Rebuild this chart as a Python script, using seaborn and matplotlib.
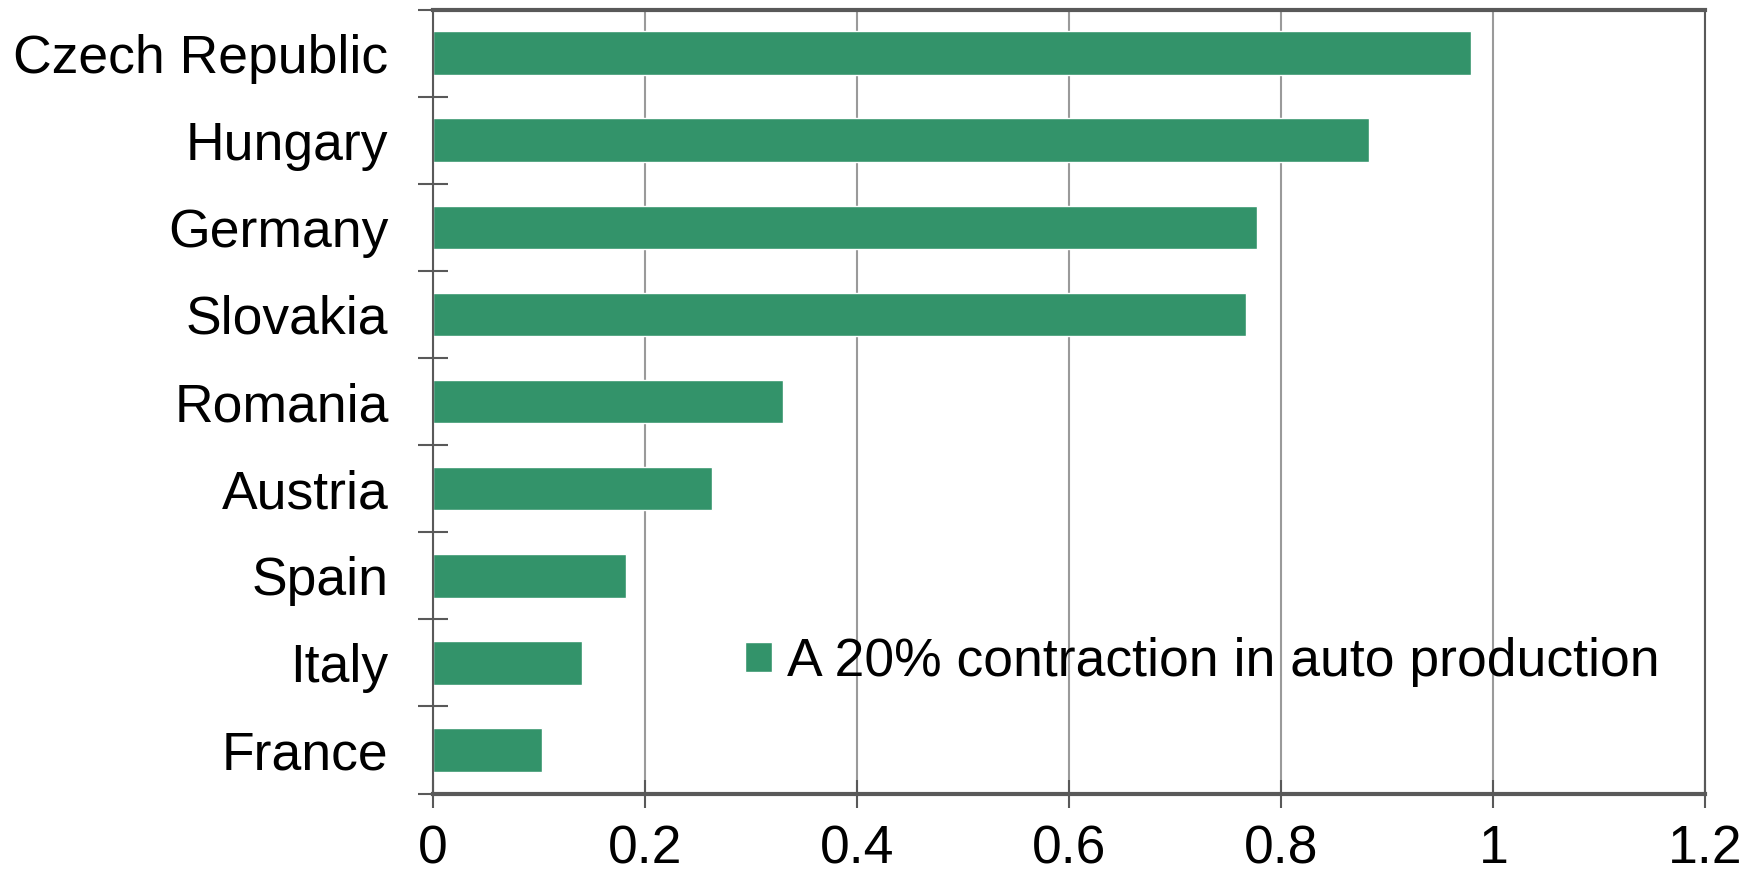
import matplotlib
matplotlib.use("Agg")
import matplotlib.pyplot as plt
import pandas as pd
import seaborn as sns
from matplotlib.ticker import FixedLocator

countries = ["Czech Republic", "Hungary", "Germany", "Slovakia", "Romania",
             "Austria", "Spain", "Italy", "France"]
impact = [0.979, 0.883, 0.777, 0.767, 0.330, 0.263, 0.182, 0.141, 0.103]
series_name = "A 20% contraction in auto production"
xticks = [0, 0.2, 0.4, 0.6, 0.8, 1.0, 1.2]
xticklabels = ["0", "0.2", "0.4", "0.6", "0.8", "1", "1.2"]

df = pd.DataFrame({"country": countries, "impact": impact})

sns.set_theme(style="white")
plt.rcParams["font.family"] = ["Liberation Sans", "DejaVu Sans"]

fig = plt.figure(figsize=(17.6, 8.74), dpi=100)
ax = fig.add_axes([0.246, 0.092, 0.723, 0.897])

sns.barplot(data=df, x="impact", y="country", orient="h", color="#33936A",
            saturation=1, width=0.5, label=series_name, ax=ax)

ax.set_xlim(0, 1.2)
ax.set_ylim(8.5, -0.5)
ax.set_xticks(xticks)
ax.set_xticklabels(xticklabels)
ax.set_xlabel("")
ax.set_ylabel("")

ax.grid(True, axis="x", color="#9a9a9a", linewidth=1.5)
ax.set_axisbelow(True)

# ticks between categories, labels centred
ax.yaxis.set_minor_locator(FixedLocator([i - 0.5 for i in range(len(countries) + 1)]))
ax.tick_params(axis="y", which="major", length=0, pad=32, labelsize=38.5, labelcolor="black")
ax.tick_params(axis="y", which="minor", left=True, direction="inout", length=22,
               width=1.5, color="#595959")
ax.tick_params(axis="x", which="major", bottom=True, direction="inout", length=20,
               width=1.5, color="#595959", pad=12, labelsize=38.5, labelcolor="black")

for side in ["left", "top", "right"]:
    ax.spines[side].set_color("#595959")
    ax.spines[side].set_linewidth(1.5)
ax.spines["bottom"].set_color("#595959")
ax.spines["bottom"].set_linewidth(3)
ax.spines["top"].set_linewidth(3)

ax.legend(loc="center right", bbox_to_anchor=(0.964, 0.168), frameon=False,
          fontsize=38.5, labelcolor="black", borderpad=0, borderaxespad=0,
          handlelength=0.5, handleheight=0.5, handletextpad=0.28)

fig.savefig("out.png", dpi=100, facecolor="white")
